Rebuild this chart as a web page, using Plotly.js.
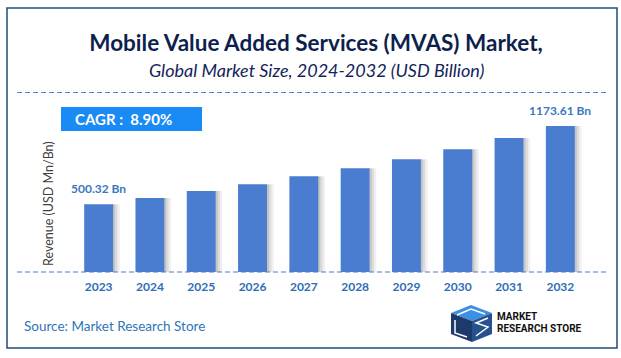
<!DOCTYPE html>
<html>
<head>
<meta charset="utf-8">
<script src="https://cdn.plot.ly/plotly-3.0.1.min.js"></script>
<style>
html,body{margin:0;padding:0;background:#fff;}
#chart{width:621px;height:358px;}
</style>
</head>
<body>
<div id="chart"></div>
<script>
// ---- data ----
const years = ["2023","2024","2025","2026","2027","2028","2029","2030","2031","2032"];
const revenue = [500.32, 547, 599, 648, 707, 766, 833, 907, 990, 1079];
const barLabels = ["500.32 Bn", "", "", "", "", "", "", "", "", "1173.61 Bn"];
const cagrText = "CAGR :  8.90%";
const titleText = "Mobile Value Added Services (MVAS) Market,";
const subtitleText = "Global Market Size, 2024-2032 (USD Billion)";
const yTitleText = "Revenue (USD Mn/Bn)";
const sourceText = "Source: Market Research Store";
const logoLine1 = "MARKET";
const logoLine2 = "RESEARCH STORE";

// ---- layout geometry ----
const W = 621, H = 358, ml = 73, mr = 35, mt = 92, mb = 86;
const pw = W - ml - mr, ph = H - mt - mb;
const fx = x => (x - ml) / pw;
const fy = y => (H - mb - y) / ph;
const FONT = "Lato, 'Open Sans', sans-serif";

const barW = 0.564;
const traces = [];
// soft shadow slices on the right side of each bar
const shadowAlphas = [0.30, 0.18, 0.08];
shadowAlphas.forEach((a, i) => {
  traces.push({
    type: "bar", x: years, y: revenue,
    width: 0.045, offset: barW / 2 + i * 0.045 - 0.005,
    marker: {color: "rgba(60,60,60," + a + ")", line: {width: 0}},
    hoverinfo: "skip", showlegend: false
  });
});
traces.push({
  type: "bar", x: years, y: revenue,
  width: barW, offset: -barW / 2,
  marker: {color: "#4A7CD0", line: {width: 0}},
  showlegend: false
});

const annotations = [];
years.forEach((yr, i) => {
  if (barLabels[i]) {
    annotations.push({
      x: i, y: revenue[i], xref: "x", yref: "y",
      text: "<b>" + barLabels[i] + "</b>", showarrow: false,
      xanchor: "center", yanchor: "bottom", yshift: 6,
      font: {family: FONT, size: 12, color: "#3A78C0"}
    });
  }
});
annotations.push(
  {xref: "paper", yref: "paper", x: fx(316), y: fy(70), text: "<i>" + subtitleText + "</i>",
   showarrow: false, xanchor: "center", yanchor: "middle",
   font: {family: FONT, size: 18, color: "#14245A"}},
  {xref: "paper", yref: "paper", x: fx(73), y: fy(119), text: "<b>" + cagrText + "</b>",
   showarrow: false, xanchor: "left", yanchor: "middle",
   font: {family: FONT, size: 15, color: "#ffffff"}},
  {xref: "paper", yref: "paper", x: fx(48), y: fy(204), text: yTitleText, textangle: -90,
   showarrow: false, xanchor: "center", yanchor: "middle",
   font: {family: FONT, size: 12.5, color: "#404040"}},
  {xref: "paper", yref: "paper", x: fx(22), y: fy(326), text: sourceText,
   showarrow: false, xanchor: "left", yanchor: "middle",
   font: {family: FONT, size: 13.5, color: "#2E75B6"}},
  {xref: "paper", yref: "paper", x: fx(495), y: fy(316), text: "<b>" + logoLine1 + "</b>",
   showarrow: false, xanchor: "left", yanchor: "middle",
   font: {family: "Roboto, sans-serif", size: 10, color: "#111111"}},
  {xref: "paper", yref: "paper", x: fx(495), y: fy(328), text: "<b>" + logoLine2 + "</b>",
   showarrow: false, xanchor: "left", yanchor: "middle",
   font: {family: "Roboto, sans-serif", size: 10, color: "#111111"}}
);

function poly(pts, fill) {
  let d = "M" + pts.map(p => fx(p[0]) + "," + fy(p[1])).join(" L") + " Z";
  return {type: "path", xref: "paper", yref: "paper", path: d, fillcolor: fill, line: {width: 0}, layer: "above"};
}
function pline(pts, color, w) {
  let d = "M" + pts.map(p => fx(p[0]) + "," + fy(p[1])).join(" L");
  return {type: "path", xref: "paper", yref: "paper", path: d, line: {color: color, width: w}, layer: "above"};
}

const shapes = [
  // frame
  {type: "rect", xref: "paper", yref: "paper", x0: fx(7), x1: fx(617), y0: fy(8), y1: fy(348),
   line: {color: "#1F4E79", width: 1.5}, layer: "below"},
  // dashed separators
  {type: "line", xref: "paper", yref: "paper", x0: fx(17), x1: fx(608), y0: fy(92.5), y1: fy(92.5),
   line: {color: "#4A7CD0", width: 1, dash: "5px,3px"}},
  {type: "line", xref: "paper", yref: "paper", x0: fx(17), x1: fx(608), y0: fy(272), y1: fy(272),
   line: {color: "#4A7CD0", width: 1, dash: "5px,3px"}},
  // CAGR box
  {type: "rect", xref: "paper", yref: "paper", x0: fx(61), x1: fx(202), y0: fy(107), y1: fy(131),
   fillcolor: "#1A8AF5", line: {width: 0}, layer: "below"},
  // logo cube
  poly([[451,313],[471,305],[492,313],[472,321]], "#3D8FE3"),
  poly([[451,313],[472,321],[472,342],[451,334]], "#1E3A6A"),
  poly([[472,321],[492,313],[492,334],[472,342]], "#27508F"),
  pline([[457,315],[471,309],[485,314]], "#ffffff", 1.5),
  pline([[455,320],[455,333],[467,337]], "#ffffff", 1.5),
  pline([[488,318],[476,323],[488,327],[476,336]], "#ffffff", 1.5)
];

const layout = {
  width: W, height: H,
  margin: {l: ml, r: mr, t: mt, b: mb, pad: 0},
  paper_bgcolor: "#ffffff", plot_bgcolor: "#ffffff",
  barmode: "overlay",
  title: {text: "<b>" + titleText + "</b>", xref: "paper", x: fx(316), xanchor: "center",
          yref: "container", y: 1 - 43 / H, yanchor: "middle",
          font: {family: FONT, size: 22.5, color: "#0E1F4D"}},
  xaxis: {type: "category", range: [-0.5, 9.5], showgrid: false, zeroline: false, showline: false,
          ticks: "", ticklabelstandoff: 6,
          tickfont: {family: FONT, size: 12, color: "#2F6DB5", weight: "bold"}},
  yaxis: {range: [0, ph / 0.1353], showgrid: false, zeroline: false, showline: false,
          showticklabels: false, ticks: ""},
  shapes: shapes,
  annotations: annotations,
  font: {family: FONT}
};

Plotly.newPlot("chart", traces, layout, {displayModeBar: false, staticPlot: true});
</script>
</body>
</html>
